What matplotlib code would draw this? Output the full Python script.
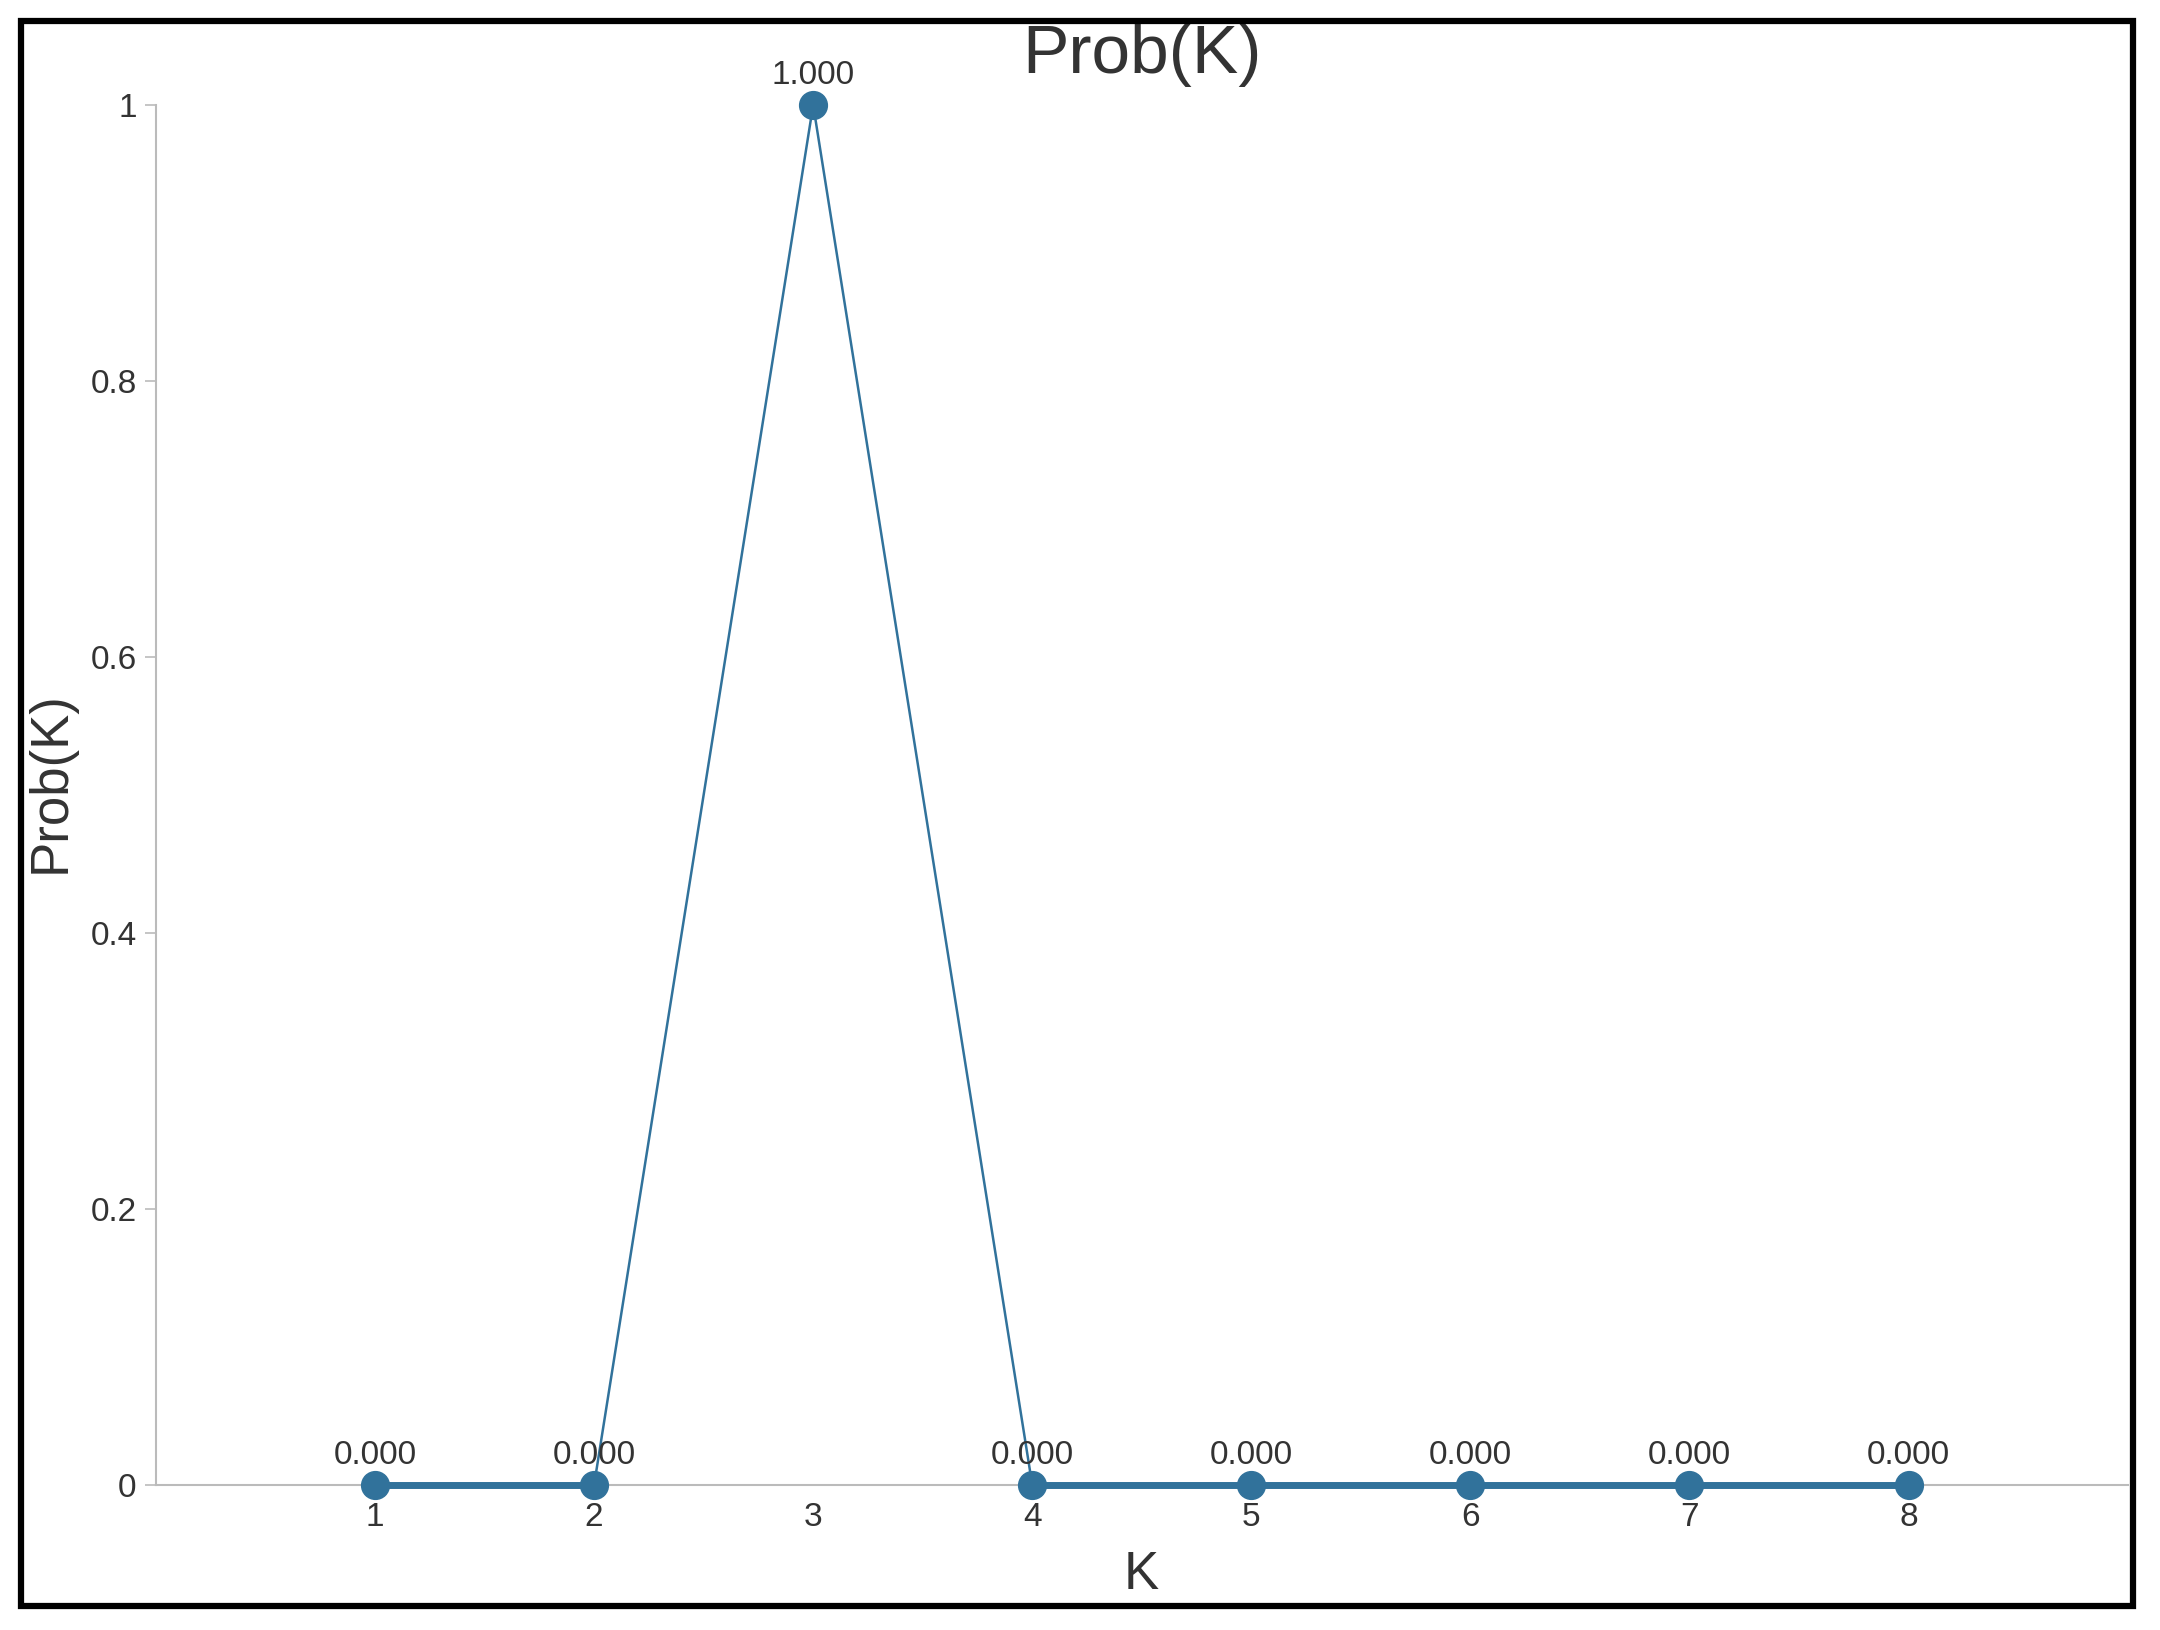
import matplotlib
matplotlib.use("Agg")
import matplotlib.pyplot as plt
from matplotlib.collections import LineCollection
from matplotlib.patches import Rectangle
import numpy as np

plt.rcParams['font.family'] = ['Liberation Sans', 'DejaVu Sans']

# Data
k_values = [1, 2, 3, 4, 5, 6, 7, 8]
prob_values = [0.0, 0.0, 1.0, 0.0, 0.0, 0.0, 0.0, 0.0]
y_ticks = [0, 0.2, 0.4, 0.6, 0.8, 1]
y_tick_labels = ["0", "0.2", "0.4", "0.6", "0.8", "1"]
title = "Prob(K)"
x_label = "K"
y_label = "Prob(K)"

LINE_COLOR = "#31729b"
TEXT_COLOR = "#333333"
AXIS_COLOR = "#bbbbbb"

fig = plt.figure(figsize=(21.6, 16.3), dpi=100)
ax = fig.add_axes([0.0722, 0.0890, 0.985 - 0.0722, 0.9356 - 0.0890])

# line segments: flat segments drawn heavier, steep ones thin (as in reference)
pts = np.column_stack([k_values, prob_values])
segs = np.stack([pts[:-1], pts[1:]], axis=1)
widths = [5.0 if abs(b[1] - a[1]) < 1e-9 else 1.8 for a, b in segs]
lc = LineCollection(segs, colors=LINE_COLOR, linewidths=widths, zorder=3,
                    clip_on=False, capstyle='butt')
ax.add_collection(lc)
ax.plot(k_values, prob_values, linestyle='none', marker='o', markersize=20,
        color=LINE_COLOR, zorder=4, clip_on=False)

for k, p in zip(k_values, prob_values):
    ax.annotate(f"{p:.3f}", (k, p), xytext=(0, 21.5), textcoords='offset points',
                ha='center', va='center', fontsize=24, color=TEXT_COLOR, zorder=5)

ax.set_xlim(0, 9)
ax.set_ylim(0, 1)
ax.set_xticks(k_values)
ax.set_xticklabels([str(k) for k in k_values])
ax.set_yticks(y_ticks)
ax.set_yticklabels(y_tick_labels)
ax.tick_params(axis='x', length=0, pad=12, labelsize=24, labelcolor=TEXT_COLOR)
ax.tick_params(axis='y', length=8, width=1.2, color=AXIS_COLOR, pad=6,
               labelsize=24, labelcolor=TEXT_COLOR)

for s in ['top', 'right']:
    ax.spines[s].set_visible(False)
for s in ['left', 'bottom']:
    ax.spines[s].set_color(AXIS_COLOR)
    ax.spines[s].set_linewidth(1.5)

fig.text(0.5285, 0.966, title, ha='center', va='center', fontsize=50, color=TEXT_COLOR)
fig.text(0.5285, 0.034, x_label, ha='center', va='center', fontsize=38, color=TEXT_COLOR)
fig.text(0.0236, 0.520, y_label, ha='center', va='center', fontsize=38,
         color=TEXT_COLOR, rotation=90)

# outer black frame
border = Rectangle((21 / 2160, 1 - 1606 / 1630), (2133 - 21) / 2160, (1606 - 21) / 1630,
                   transform=fig.transFigure, fill=False, edgecolor='black',
                   linewidth=4.5, zorder=10)
fig.patches.append(border)

fig.savefig("out.png", dpi=100, facecolor='white')
